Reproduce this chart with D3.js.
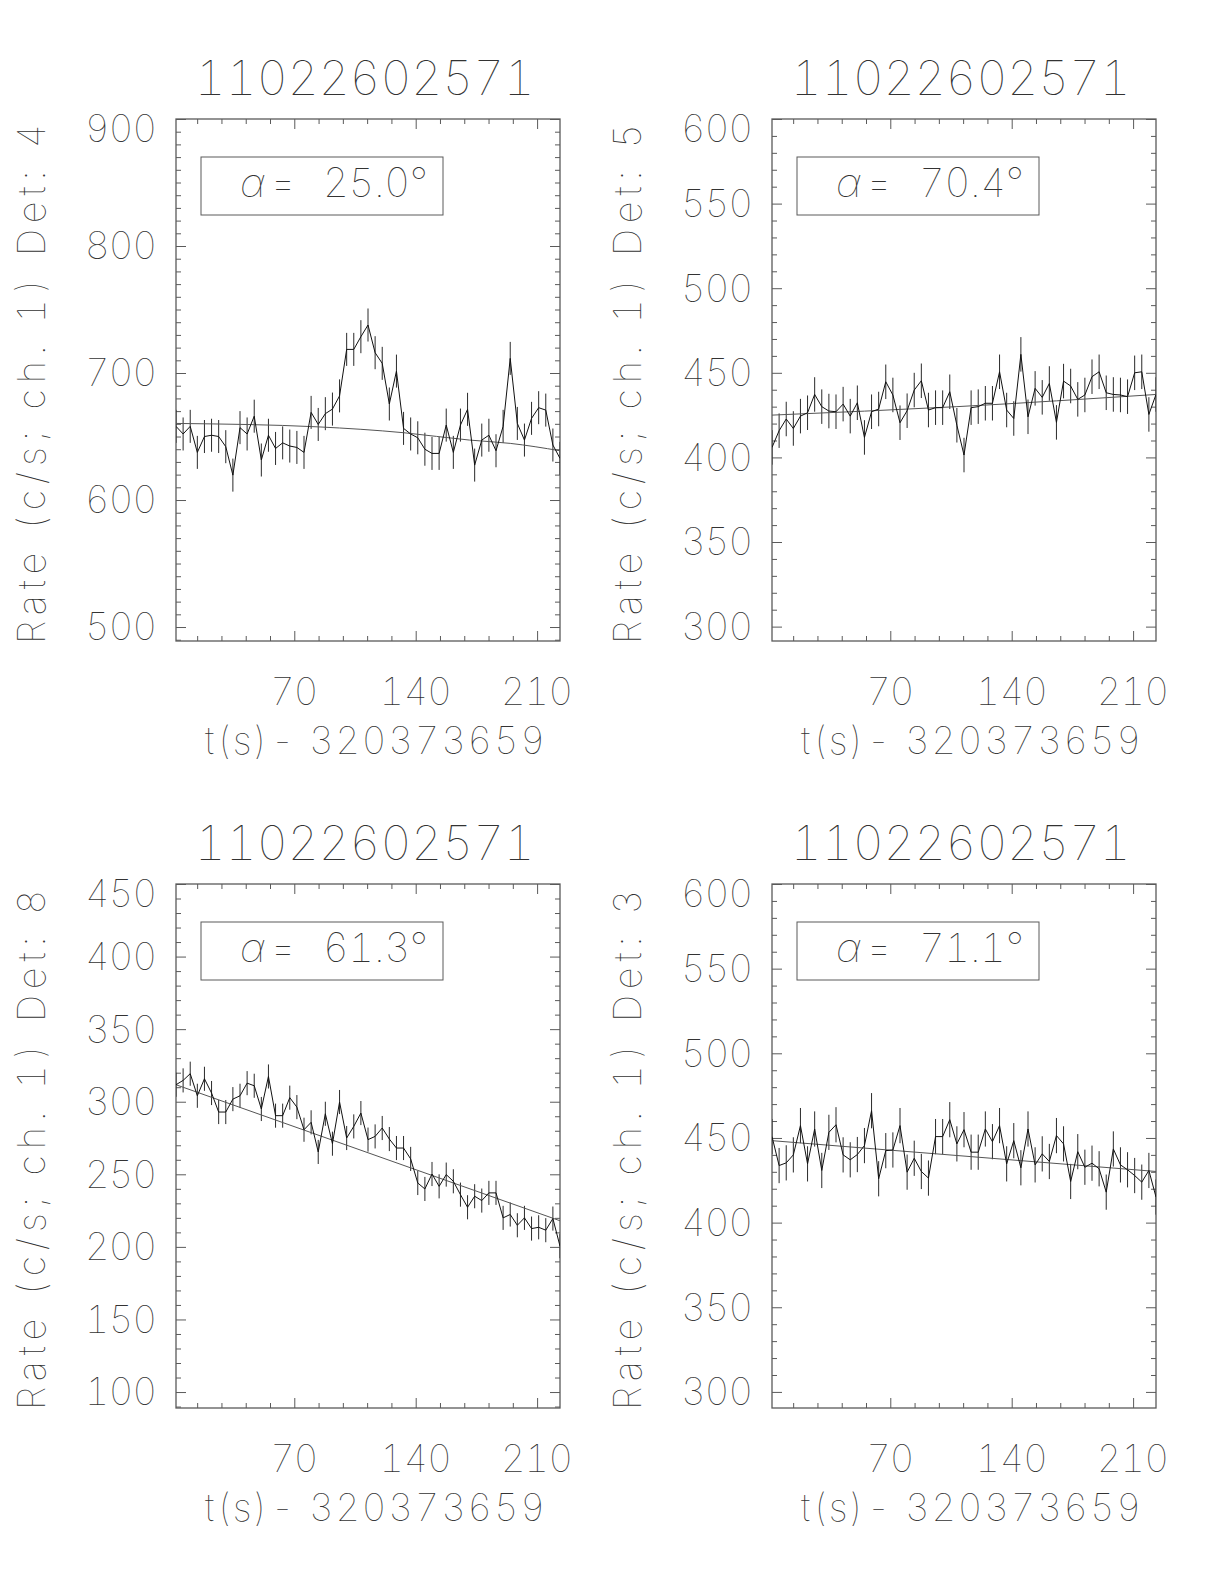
<!DOCTYPE html>
<html><head><meta charset="utf-8">
<script src="https://cdn.jsdelivr.net/npm/d3@7"></script>
<style>
html,body{margin:0;padding:0;background:#fff;}
svg{display:block;}
text{font-family:"Inter","Lato",sans-serif;font-weight:100;fill:#333;font-variant-numeric:tabular-nums;font-feature-settings:"tnum" 1;}
</style></head><body>
<svg id="chart" width="1224" height="1584"></svg>
<script>
// ---------------- DATA ----------------
const obsTitle = "11022602571";
const xTitle = "t(s)- 320373659";
const detectors = [4, 5, 8, 3];
const alphaLabels = ["25.0", "70.4", "61.3", "71.1"];

const times = [1.8, 5.9, 10.0, 14.1, 18.2, 22.3, 26.4, 30.5, 34.6, 38.7, 42.8, 46.9, 51.0, 55.1,
  59.2, 63.3, 67.4, 71.5, 75.6, 79.7, 83.8, 87.9, 92.0, 96.1, 100.2, 104.3, 108.4, 112.5, 116.6,
  120.7, 124.8, 128.9, 133.0, 137.1, 141.2, 145.3, 149.4, 153.5, 157.6, 161.7, 165.8, 169.9, 174.0,
  178.1, 182.2, 186.3, 190.4, 194.5, 198.6, 202.7, 206.8, 210.9, 215.0, 219.1, 223.2];

const rateDet4 = [658, 652, 658, 637.5, 650, 651, 650, 642, 619.6, 657, 652, 666, 631.5, 651,
  640.6, 645, 642.5, 641.4, 637.5, 669, 659.5, 668, 671.6, 682, 718.6, 718.6, 728.6, 737.8, 716,
  707.6, 675.6, 701.5, 656.4, 652, 649, 640, 636.7, 636.7, 659, 637.5, 659, 671.4, 627.5, 647.2,
  651, 638.8, 658, 711.5, 660.3, 647.2, 664.3, 672.7, 670.8, 643.3, 632.8];
const rateDet5 = [405.9, 415.8, 422.7, 417.1, 424.4, 426.4, 437.2, 430, 427.4, 427, 431.5, 424.4,
  432.3, 411.8, 427, 428.6, 444.7, 436.9, 420.5, 427.6, 439.8, 445.3, 428, 429.4, 429.4, 438.8,
  419, 401.4, 429.4, 430, 432, 432, 450.6, 428, 423, 460.9, 424, 440.8, 435.5, 443.7, 420.7,
  445.1, 442.2, 434.3, 436.9, 447.7, 450.6, 438.2, 437.2, 436.9, 435.9, 450, 450.6, 425.4, 437.2];
const rateDet8 = [311.7, 314.7, 319.3, 304.1, 315.8, 306, 292.9, 292.9, 301.8, 304.1, 312.8, 311,
  295, 317.4, 290.4, 290.4, 302.8, 296.3, 280.7, 285.8, 265.4, 291.7, 271.1, 299.8, 275, 283,
  292.2, 273.9, 276.1, 281.9, 274.3, 268.1, 268.1, 260.6, 244, 239.9, 250.2, 241.7, 249.8, 245.2,
  236, 227.3, 234.9, 231.9, 237.2, 237.2, 220, 222.3, 214.9, 220, 212.6, 213.5, 211.5, 219.5, 200.5];
const rateDet3 = [450.8, 433.7, 435.3, 440, 457.3, 434.7, 455.3, 430.8, 453.3, 457.8, 440, 437.1,
  440.2, 445.5, 466.1, 425.9, 442.5, 442.9, 457.3, 429.8, 438, 430.2, 426.3, 450.8, 450.8, 460.8,
  446.5, 454.9, 441.6, 441.6, 455.3, 447.8, 457.3, 434.7, 448.4, 432.4, 455.3, 434.1, 440.6,
  436.1, 451.4, 446.5, 424.3, 441.9, 432.7, 435.1, 431.8, 418, 443.5, 434.1, 431.2, 427.8, 423.9,
  430.8, 415.1];

// half-length of the error bars (c/s), one per panel
const errHalf = [13, 10.2, 8.3, 10.4];

// background fit curves: [t, rate]
const fitDet4 = [[1.8, 660.3], [83.8, 657.6], [133.0, 653], [171.0, 647.2], [194.5, 644.6], [223.2, 638.8]];
const fitDet5 = [[1.8, 425.0], [108.4, 430.0], [223.2, 437.2]];
const fitDet8 = [[1.8, 311.7], [223.2, 218.0]];
const fitDet3 = [[1.8, 448.4], [223.2, 430.2]];

const xTickLabels = [70, 140, 210];
const yTickLabels = [
  [500, 600, 700, 800, 900],
  [300, 350, 400, 450, 500, 550, 600],
  [100, 150, 200, 250, 300, 350, 400, 450],
  [300, 350, 400, 450, 500, 550, 600]
];
const yDomains = [[489, 900], [291.5, 600], [89, 450], [290.5, 600]];
const xDomain = [1.8, 223.2];

// ---------------- LAYOUT ----------------
const panels = [
  {left: 176, right: 560, top: 119, bottom: 641},
  {left: 772, right: 1156, top: 119, bottom: 641},
  {left: 176, right: 560, top: 884, bottom: 1408},
  {left: 772, right: 1156, top: 884, bottom: 1408}
];
const rates = [rateDet4, rateDet5, rateDet8, rateDet3];
const fits = [fitDet4, fitDet5, fitDet8, fitDet3];

const svg = d3.select("#chart");
const frameColor = "#5a5a5a";

panels.forEach((p, k) => {
  const g = svg.append("g");
  const x = d3.scaleLinear().domain(xDomain).range([p.left, p.right]);
  const y = d3.scaleLinear().domain(yDomains[k]).range([p.bottom, p.top]);
  const W = p.right - p.left, H = p.bottom - p.top;

  // title
  g.append("text").attr("x", (p.left + p.right) / 2 - 3).attr("y", p.top - 24)
    .attr("text-anchor", "middle").style("font-size", "48px")
    .attr("textLength", 340).attr("lengthAdjust", "spacing").text(obsTitle);

  // tick marks (inward on all four sides)
  const xMinor = d3.range(14, xDomain[1], 14).filter(v => !xTickLabels.includes(v));
  const yStepMinor = 10;
  const yMinor = d3.range(Math.ceil(yDomains[k][0] / yStepMinor) * yStepMinor, yDomains[k][1] + 0.01, yStepMinor)
    .filter(v => !yTickLabels[k].includes(v));

  const addAxis = (axis, tx, ty) => {
    const a = g.append("g").attr("transform", `translate(${tx},${ty})`).call(axis);
    a.select(".domain").remove();
    a.selectAll("text").remove();
    a.selectAll("line").attr("stroke", frameColor).attr("stroke-width", 1);
  };
  addAxis(d3.axisBottom(x).tickValues(xMinor).tickSizeInner(-5).tickSizeOuter(0), 0, p.bottom);
  addAxis(d3.axisBottom(x).tickValues(xTickLabels).tickSizeInner(-10).tickSizeOuter(0), 0, p.bottom);
  addAxis(d3.axisTop(x).tickValues(xMinor).tickSizeInner(-5).tickSizeOuter(0), 0, p.top);
  addAxis(d3.axisTop(x).tickValues(xTickLabels).tickSizeInner(-10).tickSizeOuter(0), 0, p.top);
  addAxis(d3.axisLeft(y).tickValues(yMinor).tickSizeInner(-5).tickSizeOuter(0), p.left, 0);
  addAxis(d3.axisLeft(y).tickValues(yTickLabels[k]).tickSizeInner(-10).tickSizeOuter(0), p.left, 0);
  addAxis(d3.axisRight(y).tickValues(yMinor).tickSizeInner(-5).tickSizeOuter(0), p.right, 0);
  addAxis(d3.axisRight(y).tickValues(yTickLabels[k]).tickSizeInner(-10).tickSizeOuter(0), p.right, 0);

  // frame
  g.append("rect").attr("x", p.left).attr("y", p.top).attr("width", W).attr("height", H)
    .attr("fill", "none").attr("stroke", frameColor).attr("stroke-width", 1.3);

  // y tick labels
  const yMax = yDomains[k][1];
  g.selectAll(".ylab").data(yTickLabels[k]).enter().append("text")
    .attr("x", p.left - 19)
    .attr("y", v => y(v) + (v === yMax ? 13 : 3))
    .attr("text-anchor", "end").attr("dominant-baseline", "middle")
    .attr("textLength", v => String(v).length * 24).attr("lengthAdjust", "spacing")
    .style("font-size", "38px").text(v => v);

  // x tick labels
  g.selectAll(".xlab").data(xTickLabels).enter().append("text")
    .attr("x", v => x(v)).attr("y", p.bottom + 64)
    .attr("text-anchor", "middle").style("font-size", "38px")
    .attr("textLength", v => String(v).length * 24).attr("lengthAdjust", "spacing")
    .text(v => v);

  // x title
  g.append("text").attr("x", (p.left + p.right) / 2 + 7).attr("y", p.bottom + 113)
    .attr("text-anchor", "middle").style("font-size", "38px")
    .attr("textLength", 340).attr("lengthAdjust", "spacing").text(xTitle);

  // y title
  const yc = (p.top + p.bottom) / 2 + 4;
  const yt = p.left - 131;
  g.append("text").attr("transform", `translate(${yt},${yc}) rotate(-90)`)
    .attr("text-anchor", "middle").style("font-size", "38px")
    .attr("textLength", 520).attr("lengthAdjust", "spacing")
    .text(`Rate (c/s; ch. 1) Det: ${detectors[k]}`);

  // alpha box
  g.append("rect").attr("x", p.left + 25).attr("y", p.top + 38)
    .attr("width", 242).attr("height", 58)
    .attr("fill", "none").attr("stroke", frameColor).attr("stroke-width", 1);
  const at = g.append("text").attr("y", p.top + 78).style("font-size", "40px");
  at.append("tspan").attr("x", p.left + 64).style("font-style", "italic").text("α");
  at.append("tspan").attr("x", p.left + 94).attr("textLength", 26).attr("lengthAdjust", "spacingAndGlyphs").text("=");
  at.append("tspan").attr("x", p.left + 147).attr("textLength", 105).attr("lengthAdjust", "spacing")
    .text(alphaLabels[k] + "°");

  // clip
  const clipId = "clip" + k;
  svg.append("clipPath").attr("id", clipId).append("rect")
    .attr("x", p.left).attr("y", p.top).attr("width", W).attr("height", H);
  const plot = g.append("g").attr("clip-path", `url(#${clipId})`);

  const data = times.map((t, i) => ({t, v: rates[k][i]}));

  // error bars
  plot.selectAll(".eb").data(data).enter().append("line")
    .attr("x1", d => x(d.t)).attr("x2", d => x(d.t))
    .attr("y1", d => y(d.v - errHalf[k])).attr("y2", d => y(d.v + errHalf[k]))
    .attr("stroke", "#2a2a2a").attr("stroke-width", 1);

  // fit curve
  plot.append("path").datum(fits[k])
    .attr("d", d3.line().x(d => x(d[0])).y(d => y(d[1])).curve(d3.curveMonotoneX))
    .attr("fill", "none").attr("stroke", "#555").attr("stroke-width", 1);

  // light curve
  plot.append("path").datum(data)
    .attr("d", d3.line().x(d => x(d.t)).y(d => y(d.v)))
    .attr("fill", "none").attr("stroke", "#111").attr("stroke-width", 1);
});
</script>
</body></html>
